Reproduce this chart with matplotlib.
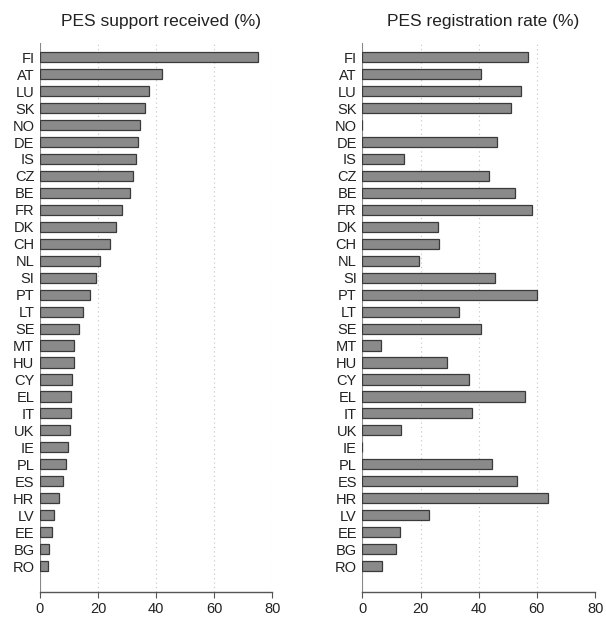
import matplotlib

matplotlib.use("Agg")
import matplotlib.pyplot as plt
import numpy as np

countries = [
    "FI", "AT", "LU", "SK", "NO", "DE", "IS", "CZ", "BE", "FR", "DK", "CH", "NL", "SI", "PT", "LT",
    "SE", "MT", "HU", "CY", "EL", "IT", "UK", "IE", "PL", "ES", "HR", "LV", "EE", "BG", "RO",
]
support_received = [
    75.3, 42.2, 37.6, 36.1, 34.4, 33.7, 33.0, 32.1, 31.1, 28.3, 26.1, 24.0, 20.8, 19.3, 17.3, 14.8,
    13.3, 11.8, 11.7, 10.9, 10.7, 10.6, 10.3, 9.8, 9.1, 8.0, 6.6, 4.8, 4.3, 3.1, 2.9,
]
# NaN = no data (NO, IE)
registration_rate = [
    57.0, 40.8, 54.4, 51.2, np.nan, 46.3, 14.4, 43.6, 52.4, 58.3, 25.9, 26.4, 19.5, 45.7, 60.0, 33.2,
    40.8, 6.4, 29.1, 36.6, 56.0, 37.7, 13.3, np.nan, 44.6, 53.1, 63.9, 22.9, 12.9, 11.7, 6.9,
]
titles = ["PES support received (%)", "PES registration rate (%)"]
xticks = [0, 20, 40, 60, 80]

plt.rcParams["font.family"] = ["Liberation Sans", "DejaVu Sans"]

fig = plt.figure(figsize=(6.06, 6.19), dpi=100)
panels = [
    (fig.add_axes([0.066, 0.0436, 0.383, 0.887]), support_received),
    (fig.add_axes([0.598, 0.0436, 0.384, 0.887]), registration_rate),
]

y = np.arange(len(countries))
for (ax, values), title in zip(panels, titles):
    vals = np.nan_to_num(np.asarray(values, dtype=float), nan=0.0)
    ax.barh(y, vals, height=0.6, color="#8a8a8a", edgecolor="#3a3a3a", linewidth=0.9, zorder=3)
    ax.set_xlim(0, 80)
    ax.set_ylim(31.53, -0.84)
    ax.set_xticks(xticks)
    ax.set_yticks(y)
    ax.set_yticklabels(countries)
    ax.tick_params(axis="y", length=0, pad=4, labelsize=10.5, colors="#222222")
    ax.tick_params(axis="x", length=4, width=0.8, color="#555555", labelsize=10.5, colors="#222222")
    ax.axvline(0, color="#888888", linewidth=0.8, zorder=2)
    ax.grid(axis="x", linestyle=(0, (1, 3)), color="#c4c4c4", linewidth=0.8, zorder=0)
    for side in ("top", "right", "left"):
        ax.spines[side].set_visible(False)
    ax.spines["bottom"].set_color("#555555")
    ax.spines["bottom"].set_linewidth(1.0)
    ax.set_title(title, fontsize=12.5, pad=12, color="#222222", x=0.52)

fig.savefig("out.png", dpi=100)
plt.close(fig)
